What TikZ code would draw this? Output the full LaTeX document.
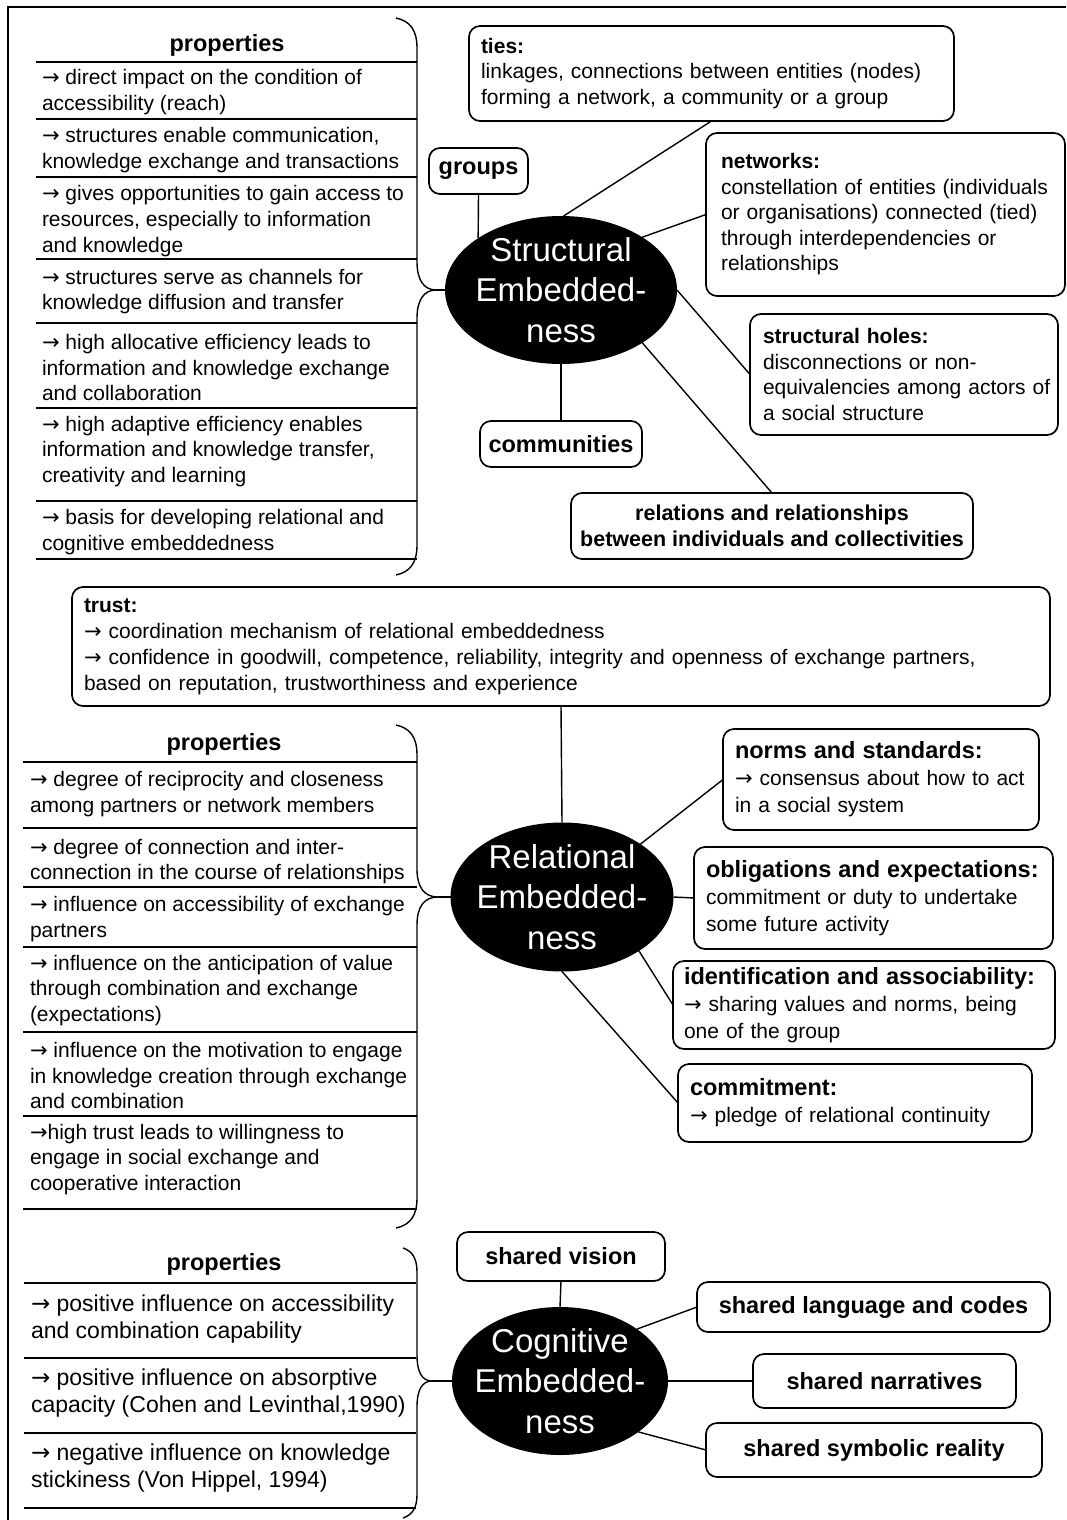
\documentclass[tikz,border=0pt]{standalone}
\usepackage{fontspec}
\setmainfont{Liberation Sans}
\newfontfamily\arrowfont{DejaVu Sans}
\usetikzlibrary{shapes.geometric}
\newcommand\hdA[1]{{\fontsize{23.5}{27}\selectfont\bfseries #1}}
\newcommand\rarr{{\arrowfont\mdseries →}}
\tikzset{
  every node/.style={inner sep=0pt, outer sep=0pt},
  rbox/.style={draw, line width=1.7pt, rounded corners=11pt, anchor=north west, align=left, inner ysep=0pt},
  cbox/.style={rbox, align=center, font=\fontsize{23.5}{27}\selectfont\bfseries},
  sfont/.style={font=\fontsize{21}{25.5}\selectfont},
  tfont/.style={font=\fontsize{21}{26}\selectfont},
  rfont/.style={font=\fontsize{21}{27}\selectfont},
  propitem/.style={anchor=west, align=left, font=\fontsize{21}{25.7}\selectfont},
  cogitem/.style={anchor=west, align=left, font=\fontsize{23}{27.5}\selectfont},
  phead/.style={font=\fontsize{23.5}{27}\selectfont\bfseries},
  hub/.style={ellipse, fill=black, text=white, align=center, inner xsep=-10pt, inner ysep=-4pt, font=\fontsize{33}{40.5}\selectfont},
  tabline/.style={line width=1.4pt},
  conn/.style={line width=1.4pt},
  bracepath/.style={line width=1.4pt},
}
\begin{document}
\begin{tikzpicture}[x=1pt,y=-1pt]
\useasboundingbox (0,0) rectangle (1066,1520);
\fill[white] (0,0) rectangle (1066,1520);
\draw[line width=1.6pt] (8,1520) -- (8,7) -- (1066,7);

% ---------------- Structural ----------------
\node[phead] (sP) at (227,45.5) {properties};
\foreach \y in {62,119,177,259,323,408,501,559} \draw[tabline] (36,\y) -- (417,\y);
\node[propitem] (s1) at (42,92) {\rarr{} direct impact on the condition of\\accessibility (reach)};
\node[propitem] (s2) at (42,150) {\rarr{} structures enable communication,\\knowledge exchange and transactions};
\node[propitem] (s3) at (42,221) {\rarr{} gives opportunities to gain access to\\resources, especially to information\\and knowledge};
\node[propitem] (s4) at (42,291.5) {\rarr{} structures serve as channels for\\knowledge diffusion and transfer};
\node[propitem] (s5) at (42,367.5) {\rarr{} high allocative efficiency leads to\\information and knowledge exchange\\and collaboration};
\node[propitem] (s6) at (42,451.5) {\rarr{} high adaptive efficiency enables\\information and knowledge transfer,\\creativity and learning};
\node[propitem] (s7) at (42,532) {\rarr{} basis for developing relational and\\cognitive embeddedness};
\coordinate (sTip) at (436,290);
\draw[bracepath] (396,18) .. controls (410,21) and (417,30) .. (417,48) -- (417,262)
  .. controls (417,280) and (424,290) .. (sTip) .. controls (424,290) and (417,300) .. (417,318)
  -- (417,545) .. controls (417,563) and (410,572) .. (396,575);

\node[hub, minimum width=232pt, minimum height=148pt] (sE) at (561,290) {Structural\\Embedded-\\ness};

\node[rbox, sfont, text width=461pt, inner xsep=12pt, minimum height=95pt] (ties) at (469,26)
  {\mbox{\textbf{ties:}}\\\mbox{linkages, connections between entities (nodes)}\\\mbox{forming a network, a community or a group}};
\node[cbox, minimum width=99pt, minimum height=46pt] (grp) at (429,148) {groups};
\node[rbox, sfont, text width=329pt, inner xsep=15pt, minimum height=163pt] (net) at (706,133)
  {\mbox{\textbf{networks:}}\\\mbox{constellation of entities (individuals}\\\mbox{or organisations) connected (tied)}\\\mbox{through interdependencies or}\\\mbox{relationships}};
\node[rbox, sfont, text width=282pt, inner xsep=13pt, minimum height=121pt] (holes) at (750,314)
  {\mbox{\textbf{structural holes:}}\\\mbox{disconnections or non-}\\\mbox{equivalencies among actors of}\\\mbox{a social structure}};
\node[cbox, minimum width=162pt, minimum height=46pt] (comm) at (480,421) {communities};
\node[rbox, align=center, minimum width=402pt, minimum height=66pt, font=\fontsize{21.5}{25.5}\selectfont\bfseries] (rel) at (571,493)
  {relations and relationships\\between individuals and collectivities};

\draw[conn] (grp.south) -- (sE.148);
\draw[conn] (ties.south) -- (sE.88);
\draw[conn] (net.west) -- (sE.33);
\draw[conn] (holes.west) -- (sE.east);
\draw[conn] (rel.north) -- (sE.327);
\draw[conn] (comm.north) -- (sE.south);
\draw[conn] (sTip) -- (sE.west);

% ---------------- Trust ----------------
\node[rbox, tfont, text width=954pt, inner xsep=12pt, minimum height=119pt] (trust) at (72,587)
  {\mbox{\textbf{trust:}}\\\mbox{\rarr{} coordination mechanism of relational embeddedness}\\\mbox{\rarr{} confidence in goodwill, competence, reliability, integrity and openness of exchange partners,}\\\mbox{based on reputation, trustworthiness and experience}};

% ---------------- Relational ----------------
\node[phead] (rP) at (224,744.5) {properties};
\foreach \y in {762,828,887,947,1032,1116,1209} \draw[tabline] (23,\y) -- (417,\y);
\node[propitem] (r1) at (30,794) {\rarr{} degree of reciprocity and closeness\\among partners or network members};
\node[propitem] (r2) at (30,861.5) {\rarr{} degree of connection and inter-\\connection in the course of relationships};
\node[propitem] (r3) at (30,919) {\rarr{} influence on accessibility of exchange\\partners};
\node[propitem] (r4) at (30,990.5) {\rarr{} influence on the anticipation of value\\through combination and exchange\\(expectations)};
\node[propitem] (r5) at (30,1075.5) {\rarr{} influence on the motivation to engage\\in knowledge creation through exchange\\and combination};
\node[propitem] (r6) at (30,1159.5) {\rarr{}high trust leads to willingness to\\engage in social exchange and\\cooperative interaction};
\coordinate (rTip) at (438,897);
\draw[bracepath] (396,725) .. controls (410,728) and (417,737) .. (417,755) -- (417,869)
  .. controls (417,887) and (424,897) .. (rTip) .. controls (424,897) and (417,907) .. (417,925)
  -- (417,1198) .. controls (417,1216) and (410,1225) .. (396,1228);

\node[hub, minimum width=223pt, minimum height=149pt] (rE) at (562,897) {Relational\\Embedded-\\ness};

\node[rbox, rfont, text width=292pt, inner xsep=12pt, minimum height=101pt] (norms) at (723,729)
  {\mbox{\hdA{norms and standards:}}\\\mbox{\rarr{} consensus about how to act}\\\mbox{in a social system}};
\node[rbox, rfont, text width=335pt, inner xsep=12pt, minimum height=102pt] (obl) at (694,847)
  {\mbox{\hdA{obligations and expectations:}}\\\mbox{commitment or duty to undertake}\\\mbox{some future activity}};
\node[rbox, rfont, text width=360pt, inner xsep=11pt, minimum height=88pt] (ident) at (673,961)
  {\mbox{\hdA{identification and associability:}}\\\mbox{\rarr{} sharing values and norms, being}\\\mbox{one of the group}};
\node[rbox, rfont, text width=330pt, inner xsep=12pt, minimum height=78pt] (commit) at (678,1064)
  {\mbox{\hdA{commitment:}}\\\mbox{\rarr{} pledge of relational continuity}};

\draw[conn] (trust.south) -- (rE.north);
\draw[conn] (norms.west) -- (rE.34);
\draw[conn] (obl.west) -- (rE.east);
\draw[conn] (ident.west) -- (rE.325);
\draw[conn] (commit.west) -- (rE.south);
\draw[conn] (rTip) -- (rE.west);

% ---------------- Cognitive ----------------
\node[phead] (cP) at (224,1264.5) {properties};
\foreach \y in {1283,1358,1433,1508} \draw[tabline] (24,\y) -- (416,\y);
\node[cogitem] (c1) at (31,1319) {\rarr{} positive influence on accessibility\\and combination capability};
\node[cogitem] (c2) at (31,1393) {\rarr{} positive influence on absorptive\\capacity (Cohen and Levinthal,1990)};
\node[cogitem] (c3) at (31,1468) {\rarr{} negative influence on knowledge\\stickiness (Von Hippel, 1994)};
\coordinate (cTip) at (432,1381);
\draw[bracepath] (403,1248) .. controls (412,1251) and (417,1258) .. (417,1272) -- (417,1355)
  .. controls (417,1372) and (422,1381) .. (cTip) .. controls (422,1381) and (417,1390) .. (417,1407)
  -- (417,1495) .. controls (417,1508) and (412,1515) .. (403,1518);

\node[hub, minimum width=216pt, minimum height=148pt] (cE) at (560,1381) {Cognitive\\Embedded-\\ness};

\node[cbox, minimum width=208pt, minimum height=49pt] (vision) at (457,1232) {shared vision};
\node[cbox, minimum width=353pt, minimum height=50pt] (lang) at (697,1282) {shared language and codes};
\node[cbox, minimum width=263pt, minimum height=54pt] (narr) at (753,1354) {shared narratives};
\node[cbox, minimum width=336pt, minimum height=54pt] (sym) at (706,1423) {shared symbolic reality};

\draw[conn] (vision.south) -- (cE.north);
\draw[conn] (lang.west) -- (cE.34);
\draw[conn] (narr.west) -- (cE.east);
\draw[conn] (sym.west) -- (cE.327);
\draw[conn] (cTip) -- (cE.west);
\end{tikzpicture}
\end{document}
